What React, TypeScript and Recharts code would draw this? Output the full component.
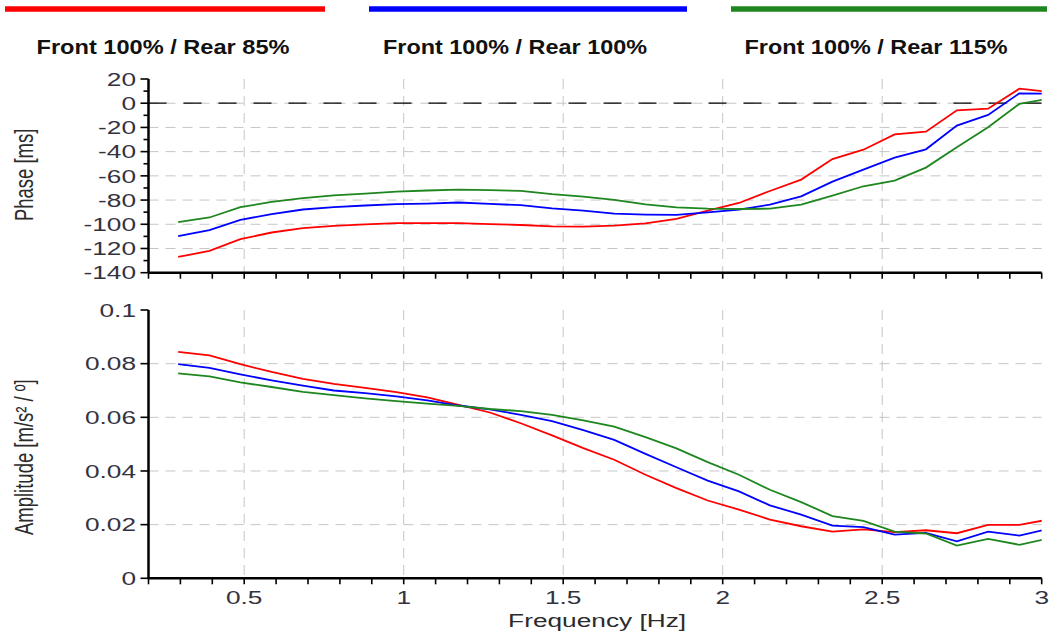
import React from 'react';
import { LineChart, Line, XAxis, YAxis, CartesianGrid, ReferenceLine, Legend } from 'recharts';

// Frequency bins [Hz]
const freq = [0.293, 0.391, 0.488, 0.586, 0.684, 0.781, 0.879, 0.977, 1.074, 1.172, 1.270, 1.367, 1.465, 1.563, 1.660, 1.758, 1.855, 1.953, 2.051, 2.148, 2.246, 2.344, 2.441, 2.539, 2.637, 2.734, 2.832, 2.930, 3.027];

// Phase [ms]
const phaseRear85 = [-127, -122, -112.3, -106.8, -103.2, -101.3, -100, -99.1, -99, -99, -99.8, -100.6, -101.8, -102, -101.1, -99.2, -95.6, -88.7, -82.4, -72.5, -63.1, -46.1, -38.4, -25.7, -23.5, -5.9, -4.5, 12, 9.3];
const phaseRear100 = [-109.8, -104.9, -96.3, -91.7, -87.8, -85.9, -84.5, -83.4, -82.9, -82, -83.2, -84.2, -86.8, -88.8, -91.2, -92, -92.3, -90.1, -87.9, -83.8, -76.9, -64.8, -54.9, -45, -38.1, -18.5, -9.7, 8.2, 7.8];
const phaseRear115 = [-98.3, -94.4, -85.9, -81.5, -78.4, -76.2, -74.6, -73, -72.1, -71.3, -71.8, -72.4, -75.1, -77.1, -79.9, -83.5, -86, -87.1, -87.4, -87.1, -83.8, -76.4, -68.6, -64, -53.2, -36.4, -19.9, -0.6, 4];

// Amplitude [m/s² / º]
const ampRear85 = [0.0844, 0.0831, 0.0798, 0.0769, 0.0743, 0.0725, 0.0710, 0.0694, 0.0674, 0.0646, 0.0618, 0.0578, 0.0533, 0.0485, 0.0442, 0.0386, 0.0336, 0.0290, 0.0256, 0.0219, 0.0194, 0.0174, 0.0182, 0.0172, 0.0179, 0.0168, 0.0199, 0.0199, 0.0220];
const ampRear100 = [0.0798, 0.0784, 0.0760, 0.0738, 0.0718, 0.0700, 0.0690, 0.0678, 0.0663, 0.0644, 0.0630, 0.0609, 0.0586, 0.0552, 0.0516, 0.0464, 0.0414, 0.0364, 0.0324, 0.0272, 0.0237, 0.0196, 0.0191, 0.0163, 0.0169, 0.0138, 0.0174, 0.0159, 0.0186];
const ampRear115 = [0.0764, 0.0753, 0.0730, 0.0713, 0.0695, 0.0683, 0.0671, 0.0660, 0.0651, 0.0643, 0.0631, 0.0623, 0.0609, 0.0589, 0.0565, 0.0526, 0.0484, 0.0433, 0.0386, 0.0330, 0.0284, 0.0232, 0.0214, 0.0174, 0.0167, 0.0122, 0.0147, 0.0125, 0.0150];

const seriesNames = ['Front 100% / Rear 85%', 'Front 100% / Rear 100%', 'Front 100% / Rear 115%'];
const seriesColors = ['#ff0000', '#0000ff', '#1e861e'];

// Axis ticks
const xTicks = [0.2, 0.3, 0.4, 0.5, 0.6, 0.7, 0.8, 0.9, 1, 1.1, 1.2, 1.3, 1.4, 1.5, 1.6, 1.7, 1.8, 1.9, 2, 2.1, 2.2, 2.3, 2.4, 2.5, 2.6, 2.7, 2.8, 2.9, 3];
const xGridValues = [0.5, 1, 1.5, 2, 2.5];
const phaseTicks = [-140, -130, -120, -110, -100, -90, -80, -70, -60, -50, -40, -30, -20, -10, 0, 10, 20];
const phaseGridValues = [-120, -100, -80, -60, -40, -20, 0];
const ampTicks = [0, 0.02, 0.04, 0.06, 0.08, 0.1];
const ampGridValues = [0.02, 0.04, 0.06, 0.08];

const rows = freq.map((f, i) => ({
  f,
  p85: phaseRear85[i],
  p100: phaseRear100[i],
  p115: phaseRear115[i],
  a85: ampRear85[i],
  a100: ampRear100[i],
  a115: ampRear115[i],
}));

const W = 1054;
const SX = 1.42;
const FONT = '"Liberation Sans", Arial, sans-serif';
const TICK_COLOR = '#33333f';
const AXIS = { stroke: '#000', strokeWidth: 2.5 };

const isMajorX = (v: number) => Math.abs(v * 2 - Math.round(v * 2)) < 1e-6;

const makeXTick = (showLabel: boolean) => (props: any) => {
  const { x, y, payload } = props;
  const v = payload.value;
  return (
    <g>
      <line x1={x} x2={x} y1={y} y2={y + 6} stroke="#000" strokeWidth={1.6} />
      {showLabel && isMajorX(v) && v > 0.25 && (
        <text
          transform={`translate(${x},${y + 25.5}) scale(${SX},1)`}
          textAnchor="middle"
          fontSize={18.5}
          fontFamily={FONT}
          fill={TICK_COLOR}
        >
          {String(v)}
        </text>
      )}
    </g>
  );
};

const PhaseYTick = (props: any) => {
  const { x, y, payload } = props;
  const v = payload.value;
  const major = Math.abs(v % 20) < 1e-6;
  return (
    <g>
      <line x1={x} x2={x - (major ? 8 : 5)} y1={y} y2={y} stroke="#000" strokeWidth={1.6} />
      {major && (
        <text
          transform={`translate(${x - 12.5},${y}) scale(${SX},1)`}
          textAnchor="end"
          dy="0.36em"
          fontSize={18.5}
          fontFamily={FONT}
          fill={TICK_COLOR}
        >
          {String(v)}
        </text>
      )}
    </g>
  );
};

const AmpYTick = (props: any) => {
  const { x, y, payload } = props;
  const v = payload.value;
  return (
    <g>
      <line x1={x} x2={x - 8} y1={y} y2={y} stroke="#000" strokeWidth={1.6} />
      <text
        transform={`translate(${x - 12.5},${y}) scale(${SX},1)`}
        textAnchor="end"
        dy="0.36em"
        fontSize={18.5}
        fontFamily={FONT}
        fill={TICK_COLOR}
      >
        {String(v)}
      </text>
    </g>
  );
};

const makeYTitle = (title: string, dyCenter: number) => (props: any) => {
  const vb = props.viewBox || { x: 0, y: 0, width: 0, height: 0 };
  const cy = vb.y + vb.height / 2 + dyCenter;
  return (
    <text
      transform={`translate(${vb.x + 33},${cy}) scale(${SX},1) rotate(-90)`}
      textAnchor="middle"
      fontSize={18.5}
      fontFamily={FONT}
      fill="#2b2b2b"
    >
      {title}
    </text>
  );
};

const XTitle = (props: any) => {
  const vb = props.viewBox || { x: 0, y: 0, width: 0, height: 0 };
  return (
    <text
      transform={`translate(${vb.x + vb.width / 2 + 2},${vb.y + 48.5}) scale(${SX},1)`}
      textAnchor="middle"
      fontSize={18.5}
      fontFamily={FONT}
      fill="#2b2b2b"
    >
      Frequency [Hz]
    </text>
  );
};

const legendLineX = [5, 369, 731];
const legendLineW = [320, 318, 316];
const legendTextX = [163, 515, 876];
const legendTextW = [253, 264, 263];

const renderLegend = (props: any) => {
  const payload = [...(props.payload || [])].sort(
    (a: any, b: any) => seriesNames.indexOf(a.value) - seriesNames.indexOf(b.value)
  );
  return (
    <svg width={W} height={60} style={{ display: 'block' }}>
      {payload.map((e: any, i: number) => (
        <g key={i}>
          <line x1={legendLineX[i]} x2={legendLineX[i] + legendLineW[i]} y1={9} y2={9} stroke={e.color} strokeWidth={5.5} />
          <text
            x={legendTextX[i]}
            y={54}
            textAnchor="middle"
            textLength={legendTextW[i]}
            lengthAdjust="spacingAndGlyphs"
            fontSize={21}
            fontWeight="bold"
            fontFamily={FONT}
            fill="#111"
          >
            {e.value}
          </text>
        </g>
      ))}
    </svg>
  );
};

export default function App() {
  return (
    <div style={{ position: 'absolute', left: 0, top: 0, width: W, height: 637, background: '#fff' }}>
      <div style={{ position: 'absolute', left: 0, top: 0 }}>
        <LineChart width={W} height={290} data={rows} margin={{ top: 19, right: 12.3, bottom: 0, left: 0 }}>
          <Legend verticalAlign="top" align="left" itemSorter={null as any} content={renderLegend} wrapperStyle={{ left: 0, top: 0, width: W, height: 60 }} />
          <CartesianGrid
            stroke="#c6c6c6"
            strokeDasharray="10 7"
            horizontalValues={phaseGridValues}
            verticalValues={xGridValues}
          />
          <ReferenceLine y={0} stroke="#000" strokeDasharray="18 17" strokeWidth={1.3} />
          <Line type="linear" dataKey="p85" name={seriesNames[0]} stroke={seriesColors[0]} strokeWidth={1.8} dot={false} activeDot={false} isAnimationActive={false} />
          <Line type="linear" dataKey="p100" name={seriesNames[1]} stroke={seriesColors[1]} strokeWidth={1.8} dot={false} activeDot={false} isAnimationActive={false} />
          <Line type="linear" dataKey="p115" name={seriesNames[2]} stroke={seriesColors[2]} strokeWidth={1.8} dot={false} activeDot={false} isAnimationActive={false} />
          <XAxis
            type="number"
            dataKey="f"
            domain={[0.2, 3]}
            allowDataOverflow
            ticks={xTicks}
            interval={0}
            tick={makeXTick(false)}
            tickLine={false}
            tickSize={0}
            tickMargin={0}
            height={17.3}
            axisLine={AXIS}
          />
          <YAxis
            type="number"
            domain={[-140, 20]}
            allowDataOverflow
            ticks={phaseTicks}
            interval={0}
            width={148.5}
            tick={PhaseYTick}
            tickLine={false}
            tickSize={0}
            tickMargin={0}
            axisLine={AXIS}
            label={{ content: makeYTitle('Phase [ms]', -1) }}
          />
          <XAxis xAxisId="top" orientation="top" type="number" dataKey="f" domain={[0.2, 3]} allowDataOverflow height={0} tick={false} tickLine={false} axisLine={AXIS} />
          <YAxis yAxisId="right" orientation="right" type="number" domain={[-140, 20]} allowDataOverflow width={0} tick={false} tickLine={false} axisLine={AXIS} />
        </LineChart>
      </div>
      <div style={{ position: 'absolute', left: 0, top: 290 }}>
        <LineChart width={W} height={347} data={rows} margin={{ top: 20, right: 12.3, bottom: 0, left: 0 }}>
          <CartesianGrid
            stroke="#c6c6c6"
            strokeDasharray="10 7"
            horizontalValues={ampGridValues}
            verticalValues={xGridValues}
          />
          <Line type="linear" dataKey="a85" name={seriesNames[0]} stroke={seriesColors[0]} strokeWidth={1.8} dot={false} activeDot={false} isAnimationActive={false} />
          <Line type="linear" dataKey="a100" name={seriesNames[1]} stroke={seriesColors[1]} strokeWidth={1.8} dot={false} activeDot={false} isAnimationActive={false} />
          <Line type="linear" dataKey="a115" name={seriesNames[2]} stroke={seriesColors[2]} strokeWidth={1.8} dot={false} activeDot={false} isAnimationActive={false} />
          <XAxis
            type="number"
            dataKey="f"
            domain={[0.2, 3]}
            allowDataOverflow
            ticks={xTicks}
            interval={0}
            tick={makeXTick(true)}
            tickLine={false}
            tickSize={0}
            tickMargin={0}
            height={58.7}
            axisLine={AXIS}
            label={{ content: XTitle }}
          />
          <YAxis
            type="number"
            domain={[0, 0.1]}
            allowDataOverflow
            ticks={ampTicks}
            interval={0}
            width={148.5}
            tick={AmpYTick}
            tickLine={false}
            tickSize={0}
            tickMargin={0}
            axisLine={AXIS}
            label={{ content: makeYTitle('Amplitude [m/s² / º]', 13) }}
          />
          <XAxis xAxisId="top" orientation="top" type="number" dataKey="f" domain={[0.2, 3]} allowDataOverflow height={0} tick={false} tickLine={false} axisLine={AXIS} />
          <YAxis yAxisId="right" orientation="right" type="number" domain={[0, 0.1]} allowDataOverflow width={0} tick={false} tickLine={false} axisLine={AXIS} />
        </LineChart>
      </div>
    </div>
  );
}
